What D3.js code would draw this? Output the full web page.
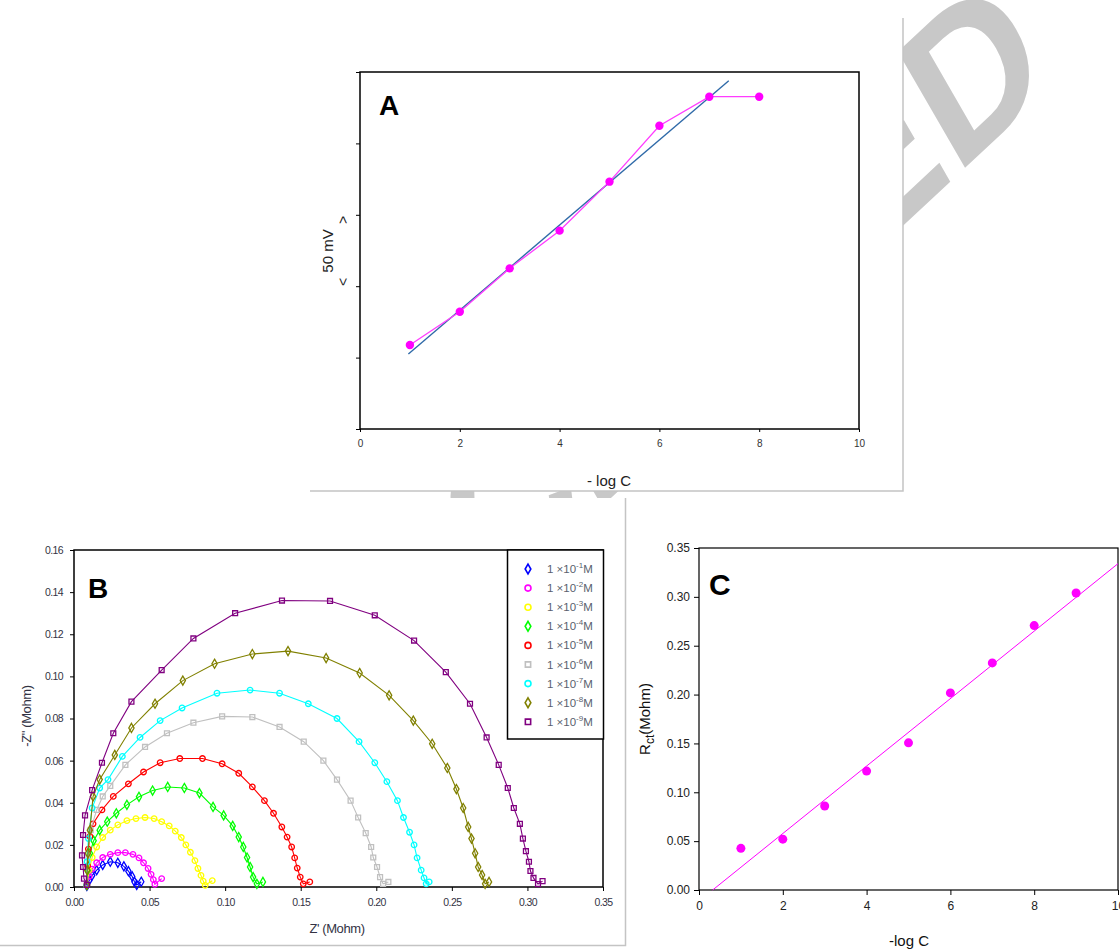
<!DOCTYPE html>
<html lang="en">
<head>
<meta charset="UTF-8">
<title>Potentiometric and impedance response</title>
<style>
  body { margin: 0; background: #fff; }
  svg { display: block; }
  text { font-family: "Liberation Sans", Arial, sans-serif; }
</style>
</head>
<body>
<script src="https://d3js.org/d3.v7.min.js"></script>
<svg id="vis"></svg>
<script>
// ---- Panel A: potential vs -log C ----
const potLogC = [1, 2, 3, 4, 5, 6, 7, 8]
const potMv = [58.8, 82.1, 112.5, 138.9, 173.2, 212.4, 232.7, 232.7]
const potFitLogC = [0.97, 7.39]
const potFitMv = [52.5, 243.9]
const potXTicks = [0, 2, 4, 6, 8, 10]
const potYTicks = [0, 50, 100, 150, 200, 250]

// ---- Panel B: Nyquist plots, [Z', -Z''] in Mohm, one list per concentration ----
const concExponents = [1, 2, 3, 4, 5, 6, 7, 8, 9]
const nyquist1 = [[0.0085,0.0005],[0.010,0.003],[0.012,0.0055],[0.015,0.008],[0.019,0.0105],[0.024,0.012],[0.029,0.0115],[0.033,0.0098],[0.036,0.0075],[0.0385,0.005],[0.040,0.0025],[0.0415,0.001],[0.0445,0.0025]]
const nyquist2 = [[0.0085,0.001],[0.010,0.005],[0.012,0.0085],[0.015,0.0115],[0.019,0.014],[0.024,0.0155],[0.029,0.0163],[0.034,0.0163],[0.039,0.0155],[0.043,0.0138],[0.046,0.0115],[0.049,0.0088],[0.051,0.006],[0.0525,0.0035],[0.0535,0.0013],[0.058,0.004]]
const nyquist3 = [[0.0085,0.001],[0.010,0.008],[0.012,0.014],[0.015,0.019],[0.019,0.0235],[0.024,0.027],[0.029,0.0295],[0.035,0.0315],[0.041,0.0325],[0.047,0.033],[0.053,0.0325],[0.058,0.031],[0.063,0.029],[0.067,0.0265],[0.071,0.0235],[0.074,0.020],[0.077,0.0165],[0.080,0.0125],[0.082,0.0088],[0.084,0.0055],[0.0855,0.0028],[0.0868,0.0008],[0.0915,0.003]]
const nyquist4 = [[0.0085,0.001],[0.009,0.008],[0.0105,0.016],[0.013,0.022],[0.017,0.027],[0.022,0.031],[0.028,0.035],[0.035,0.039],[0.043,0.0428],[0.052,0.0458],[0.062,0.0475],[0.073,0.047],[0.083,0.0446],[0.092,0.038],[0.099,0.034],[0.105,0.029],[0.109,0.0237],[0.112,0.019],[0.1145,0.014],[0.1165,0.0095],[0.1185,0.0047],[0.121,0.0015],[0.125,0.0024]]
const nyquist5 = [[0.0085,0.001],[0.009,0.010],[0.0095,0.018],[0.0105,0.024],[0.0126,0.030],[0.0185,0.0366],[0.026,0.043],[0.036,0.049],[0.046,0.0546],[0.057,0.059],[0.070,0.061],[0.085,0.061],[0.098,0.0585],[0.109,0.054],[0.118,0.0475],[0.126,0.041],[0.132,0.035],[0.1375,0.0285],[0.141,0.0237],[0.144,0.019],[0.146,0.0138],[0.1477,0.009],[0.1497,0.0047],[0.1517,0.0015],[0.156,0.0024]]
const nyquist6 = [[0.0085,0.001],[0.0087,0.014],[0.011,0.027],[0.015,0.0366],[0.019,0.043],[0.024,0.048],[0.034,0.058],[0.047,0.0665],[0.0615,0.073],[0.079,0.078],[0.098,0.081],[0.118,0.0807],[0.136,0.076],[0.152,0.069],[0.165,0.060],[0.174,0.051],[0.183,0.041],[0.188,0.033],[0.193,0.0256],[0.1966,0.019],[0.198,0.014],[0.2005,0.0095],[0.2025,0.0047],[0.2045,0.0015],[0.208,0.0024]]
const nyquist7 = [[0.0085,0.001],[0.0087,0.012],[0.0095,0.023],[0.012,0.0375],[0.017,0.047],[0.0225,0.051],[0.032,0.062],[0.0437,0.071],[0.057,0.079],[0.0715,0.085],[0.0946,0.092],[0.1165,0.0935],[0.136,0.092],[0.155,0.087],[0.174,0.080],[0.1886,0.069],[0.199,0.059],[0.207,0.050],[0.214,0.041],[0.218,0.033],[0.222,0.026],[0.225,0.020],[0.227,0.0138],[0.2297,0.008],[0.2316,0.0043],[0.233,0.0015],[0.235,0.0024]]
const nyquist8 = [[0.0085,0.001],[0.0087,0.008],[0.0092,0.016],[0.0105,0.027],[0.0126,0.043],[0.017,0.051],[0.027,0.0627],[0.038,0.0755],[0.0536,0.087],[0.072,0.098],[0.093,0.106],[0.118,0.1106],[0.1416,0.112],[0.1668,0.1087],[0.189,0.1016],[0.2085,0.091],[0.2245,0.079],[0.237,0.068],[0.247,0.0565],[0.253,0.0465],[0.2575,0.0375],[0.2608,0.0285],[0.263,0.023],[0.2654,0.016],[0.2674,0.0095],[0.270,0.0057],[0.272,0.0015],[0.2746,0.0024]]
const nyquist9 = [[0.0086,0.001],[0.0066,0.004],[0.006,0.0095],[0.0053,0.015],[0.006,0.0247],[0.0073,0.034],[0.012,0.046],[0.0185,0.059],[0.026,0.073],[0.038,0.088],[0.058,0.103],[0.079,0.118],[0.1066,0.130],[0.1376,0.136],[0.1694,0.1358],[0.199,0.129],[0.225,0.117],[0.246,0.102],[0.262,0.087],[0.273,0.071],[0.281,0.058],[0.287,0.047],[0.291,0.0375],[0.295,0.030],[0.297,0.023],[0.299,0.017],[0.301,0.012],[0.302,0.0076],[0.304,0.0043],[0.307,0.0014],[0.310,0.0028]]
const nyquistSeries = [nyquist1, nyquist2, nyquist3, nyquist4, nyquist5, nyquist6, nyquist7, nyquist8, nyquist9]
const nyqXTicks = [0, 0.05, 0.10, 0.15, 0.20, 0.25, 0.30, 0.35]
const nyqYTicks = [0, 0.02, 0.04, 0.06, 0.08, 0.10, 0.12, 0.14, 0.16]

// ---- Panel C: Rct vs -log C ----
const rctLogC = [1, 2, 3, 4, 5, 6, 7, 8, 9]
const rctValues = [0.0426, 0.052, 0.086, 0.1217, 0.1506, 0.2017, 0.2324, 0.2706, 0.304]
const rctFitLogC = [0.326, 10]
const rctFitValues = [0, 0.334]
const rctXTicks = [0, 2, 4, 6, 8, 10]
const rctYTicks = [0, 0.05, 0.10, 0.15, 0.20, 0.25, 0.30, 0.35]

// styles
const seriesColors = ['#0000ff', '#ff00ff', '#ffff00', '#00ff00', '#ff0000', '#c0c0c0', '#00ffff', '#808000', '#800080']
const seriesSymbols = [d3.symbolDiamond, d3.symbolCircle, d3.symbolCircle, d3.symbolDiamond, d3.symbolCircle, d3.symbolSquare, d3.symbolCircle, d3.symbolDiamond, d3.symbolSquare]
const serif = '"Liberation Serif", "Times New Roman", serif'

const svg = d3.select('#vis').attr('width', 1120).attr('height', 950)

// Watermark (slanted serif, rotated), sits behind the panel images
svg.append('text')
    .attr('transform', 'translate(1056,83) rotate(-43) skewX(-13)')
    .attr('text-anchor', 'end')
    .attr('font-family', serif)
    .attr('font-weight', 'bold')
    .attr('font-size', 190)
    .attr('fill', '#c8c8c8')
    .text('ACCEPTED')

// white panel backgrounds
svg.append('rect').attr('x', 0).attr('y', 0).attr('width', 903).attr('height', 491).attr('fill', '#fff')
svg.append('rect').attr('x', 0).attr('y', 498).attr('width', 625).attr('height', 447).attr('fill', '#fff')
svg.append('rect').attr('x', 632).attr('y', 512).attr('width', 488).attr('height', 438).attr('fill', '#fff')

// gray image borders
svg.append('path').attr('d', 'M903,18V491H310').attr('fill', 'none').attr('stroke', '#c4c4c4').attr('stroke-width', 1.5)
svg.append('path').attr('d', 'M625.5,498V945.5H0').attr('fill', 'none').attr('stroke', '#c4c4c4').attr('stroke-width', 1.5)

function styleAxis(g, size, color) {
    g.select('.domain').remove()
    g.selectAll('line').attr('stroke', '#000')
    g.selectAll('text').attr('font-size', size).attr('fill', color)
}

// ================= Panel A =================
const xA = d3.scaleLinear().domain([0, 10]).range([360, 859])
const yA = d3.scaleLinear().domain([0, 250]).range([429, 72])
const gA = svg.append('g')

gA.append('g').attr('transform', 'translate(0,429)')
    .call(d3.axisBottom(xA).tickValues(potXTicks).tickSize(3).tickPadding(8))
    .call(g => styleAxis(g, 10, '#333'))
gA.append('g').attr('transform', 'translate(360,0)')
    .call(d3.axisLeft(yA).tickValues(potYTicks).tickSize(4).tickFormat(''))
    .call(g => styleAxis(g, 10, '#333'))
gA.append('rect').attr('x', 360).attr('y', 72).attr('width', 499).attr('height', 357)
    .attr('fill', 'none').attr('stroke', '#000').attr('stroke-width', 1.5)

const fitA = potFitLogC.map((x, i) => [x, potFitMv[i]])
gA.append('path').datum(fitA)
    .attr('d', d3.line().x(d => xA(d[0])).y(d => yA(d[1])))
    .attr('stroke', '#2f6aa8').attr('stroke-width', 1.4).attr('fill', 'none')

const ptsA = potLogC.map((x, i) => [x, potMv[i]])
gA.append('path').datum(ptsA)
    .attr('d', d3.line().x(d => xA(d[0])).y(d => yA(d[1])))
    .attr('stroke', '#ff3cff').attr('stroke-width', 1.3).attr('fill', 'none')
gA.selectAll('circle.pa').data(ptsA).join('circle').attr('class', 'pa')
    .attr('cx', d => xA(d[0])).attr('cy', d => yA(d[1])).attr('r', 4.2)
    .attr('fill', '#ff00ff')

gA.append('text').attr('x', 379).attr('y', 115).attr('font-family', serif)
    .attr('font-weight', 'bold').attr('font-size', 28).text('A')
gA.append('text').attr('x', 609).attr('y', 486).attr('text-anchor', 'middle')
    .attr('font-size', 15).attr('fill', '#222').text('- log C')
gA.append('text').attr('transform', 'translate(333,251) rotate(-90)').attr('text-anchor', 'middle')
    .attr('font-size', 15).attr('fill', '#222').text('50 mV')
gA.append('text').attr('transform', 'translate(348,282) rotate(-90)').attr('text-anchor', 'middle')
    .attr('font-size', 14).attr('fill', '#222').text('<')
gA.append('text').attr('transform', 'translate(348,220) rotate(-90)').attr('text-anchor', 'middle')
    .attr('font-size', 14).attr('fill', '#222').text('>')

// ================= Panel B =================
const xB = d3.scaleLinear().domain([0, 0.35]).range([74, 603])
const yB = d3.scaleLinear().domain([0, 0.16]).range([887, 550])
const gB = svg.append('g')

gB.append('g').attr('transform', 'translate(0,887)')
    .call(d3.axisBottom(xB).tickValues(nyqXTicks).tickFormat(d3.format('.2f')).tickSize(4).tickPadding(8))
    .call(g => styleAxis(g, 10.5, '#334'))
gB.append('g').attr('transform', 'translate(74,0)')
    .call(d3.axisLeft(yB).tickValues(nyqYTicks).tickFormat(d3.format('.2f')).tickSize(4).tickPadding(7))
    .call(g => styleAxis(g, 10.5, '#334'))
gB.selectAll('.tick text').attr('letter-spacing', -0.6)
gB.append('rect').attr('x', 74).attr('y', 550).attr('width', 529).attr('height', 337)
    .attr('fill', 'none').attr('stroke', '#000').attr('stroke-width', 1.5)

const lineB = d3.line().x(d => xB(d[0])).y(d => yB(d[1]))
nyquistSeries.forEach((pts, i) => {
    const sg = gB.append('g')
    sg.append('path').datum(pts).attr('d', lineB)
        .attr('stroke', seriesColors[i]).attr('stroke-width', 1.1).attr('fill', 'none')
    sg.selectAll('path.m').data(pts).join('path').attr('class', 'm')
        .attr('transform', d => `translate(${xB(d[0])},${yB(d[1])})`)
        .attr('d', d3.symbol().type(seriesSymbols[i]).size(24))
        .attr('fill', 'none').attr('stroke', seriesColors[i]).attr('stroke-width', 1.3)
})

// legend
const legB = gB.append('g')
legB.append('rect').attr('x', 507.5).attr('y', 550).attr('width', 96).attr('height', 189)
    .attr('fill', '#fff').attr('stroke', '#000').attr('stroke-width', 1.5)
concExponents.forEach((e, i) => {
    const y = 569 + i * 19.1
    legB.append('path').attr('transform', `translate(528,${y})`)
        .attr('d', d3.symbol().type(seriesSymbols[i]).size(28))
        .attr('fill', 'none').attr('stroke', seriesColors[i]).attr('stroke-width', 1.6)
    const t = legB.append('text').attr('x', 547).attr('y', y + 4).attr('font-size', 11.5).attr('fill', '#5a5f6e')
    t.append('tspan').text('1 \u00d710')
    t.append('tspan').attr('dy', -5).attr('font-size', 8).text('-' + e)
    t.append('tspan').attr('dy', 5).text('M')
})

gB.append('text').attr('x', 88).attr('y', 598).attr('font-family', serif)
    .attr('font-weight', 'bold').attr('font-size', 28).text('B')
gB.append('text').attr('x', 337).attr('y', 933).attr('text-anchor', 'middle')
    .attr('font-size', 13).attr('fill', '#334').attr('letter-spacing', -0.4).text("Z' (Mohm)")
gB.append('text').attr('transform', 'translate(31,716) rotate(-90)').attr('text-anchor', 'middle')
    .attr('font-size', 13).attr('fill', '#334').attr('letter-spacing', -0.4).text('-Z" (Mohm)')

// ================= Panel C =================
const xC = d3.scaleLinear().domain([0, 10]).range([699, 1118])
const yC = d3.scaleLinear().domain([0, 0.35]).range([890, 548])
const gC = svg.append('g')

gC.append('g').attr('transform', 'translate(0,890)')
    .call(d3.axisBottom(xC).tickValues(rctXTicks).tickSize(5).tickPadding(6))
    .call(g => styleAxis(g, 12, '#222'))
gC.append('g').attr('transform', 'translate(699,0)')
    .call(d3.axisLeft(yC).tickValues(rctYTicks).tickFormat(d3.format('.2f')).tickSize(5).tickPadding(4))
    .call(g => styleAxis(g, 12, '#222'))
gC.append('rect').attr('x', 699).attr('y', 548).attr('width', 419).attr('height', 342)
    .attr('fill', 'none').attr('stroke', '#000').attr('stroke-width', 1.2)

const fitC = rctFitLogC.map((x, i) => [x, rctFitValues[i]])
gC.append('path').datum(fitC)
    .attr('d', d3.line().x(d => xC(d[0])).y(d => yC(d[1])))
    .attr('stroke', '#ff00ff').attr('stroke-width', 1).attr('fill', 'none')
gC.selectAll('circle.pc').data(rctLogC.map((x, i) => [x, rctValues[i]])).join('circle').attr('class', 'pc')
    .attr('cx', d => xC(d[0])).attr('cy', d => yC(d[1])).attr('r', 4.5)
    .attr('fill', '#ff00ff')

gC.append('text').attr('x', 709).attr('y', 595).attr('font-family', serif)
    .attr('font-weight', 'bold').attr('font-size', 30).text('C')
gC.append('text').attr('x', 909).attr('y', 946).attr('text-anchor', 'middle')
    .attr('font-size', 15).attr('fill', '#111').text('-log C')
const rl = gC.append('text').attr('transform', 'translate(650,719) rotate(-90)').attr('text-anchor', 'middle')
    .attr('font-size', 15).attr('fill', '#111')
rl.append('tspan').text('R')
rl.append('tspan').attr('dy', 4).attr('font-size', 12).text('ct')
rl.append('tspan').attr('dy', -4).text('(Mohm)')
</script>
</body>
</html>
